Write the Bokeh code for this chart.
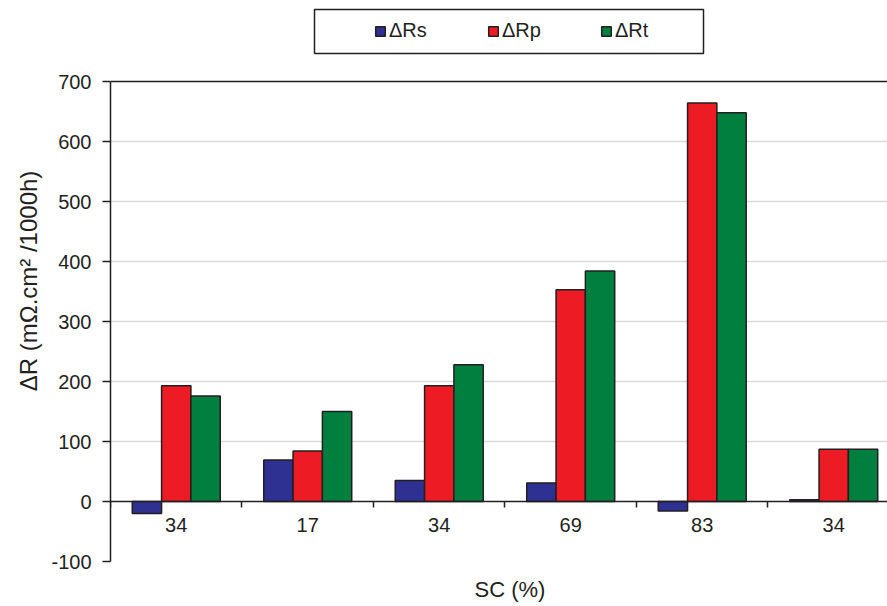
from bokeh.plotting import figure
from bokeh.models import (Range1d, FixedTicker, Legend, LegendItem, Title, Span,
                          BoxAnnotation, ColumnDataSource)
from bokeh.transform import dodge
from bokeh.embed import file_html
from bokeh.resources import INLINE

# ---- data ----
categories = ["34", "17", "34", "69", "83", "34"]
dRs = [-20, 69, 35, 31, -16, 3]
dRp = [193, 84, 193, 353, 664, 87]
dRt = [176, 150, 228, 384, 648, 87]
y_ticks = [-100, 0, 100, 200, 300, 400, 500, 600, 700]
series_names = ["ΔRs", "ΔRp", "ΔRt"]
colors = ["#2e3192", "#ed1c24", "#007f3f"]

FONT = "Liberation Sans"
DARK = "#231f20"

positions = [i + 0.5 for i in range(len(categories))]
boundaries = list(range(len(categories) + 1))
src = ColumnDataSource(dict(x=positions, dRs=dRs, dRp=dRp, dRt=dRt))

# frame spans the whole top; the value axis runs from -100 to 700,
# the extra headroom above 700 hosts the legend
p = figure(width=887, height=606, output_backend="svg", toolbar_location=None,
           x_range=Range1d(0, 5.909), y_range=Range1d(-100, 835),
           min_border_left=110, min_border_right=0, min_border_top=0,
           min_border_bottom=45)
p.outline_line_color = None
p.background_fill_color = "white"
p.border_fill_color = "white"

bw = 0.223
renderers = []
for i, (col, c) in enumerate(zip(["dRs", "dRp", "dRt"], colors)):
    r = p.vbar(x=dodge("x", (i - 1) * bw), top=col, bottom=0, width=bw, source=src,
               fill_color=c, line_color=DARK, line_width=1.5)
    renderers.append(r)

# grid
p.xgrid.visible = False
p.ygrid.ticker = FixedTicker(ticks=[t for t in y_ticks if 0 < t < y_ticks[-1]])
p.ygrid.grid_line_color = "#d9d9d9"
p.ygrid.grid_line_width = 1.5

# y axis
ya = p.yaxis[0]
ya.ticker = FixedTicker(ticks=y_ticks)
ya.bounds = (y_ticks[0], y_ticks[-1])
ya.major_label_overrides = {t: str(t) for t in y_ticks}
ya.axis_line_color = DARK
ya.axis_line_width = 1.5
ya.major_tick_line_color = DARK
ya.major_tick_line_width = 1.5
ya.major_tick_out = 8
ya.major_tick_in = 0
ya.minor_tick_line_color = None
ya.major_label_text_font = FONT
ya.major_label_text_font_size = "20px"
ya.major_label_text_color = DARK
ya.major_label_standoff = 11
ya.axis_label = "ΔR (mΩ.cm² /1000h)"
ya.axis_label_text_font = FONT
ya.axis_label_text_font_size = "24px"
ya.axis_label_text_font_style = "normal"
ya.axis_label_text_color = DARK
ya.axis_label_standoff = 6

# x axis at y = 0
xa = p.xaxis[0]
xa.fixed_location = 0
xa.ticker = FixedTicker(ticks=positions, minor_ticks=boundaries)
xa.major_label_overrides = {pos: lab for pos, lab in zip(positions, categories)}
xa.major_tick_line_color = None
xa.major_tick_out = 0
xa.major_tick_in = 0
xa.minor_tick_line_color = DARK
xa.minor_tick_line_width = 1.5
xa.minor_tick_out = 6
xa.minor_tick_in = 0
xa.axis_line_color = DARK
xa.axis_line_width = 1.5
xa.major_label_text_font = FONT
xa.major_label_text_font_size = "20px"
xa.major_label_text_color = DARK
xa.major_label_standoff = 10

# top border of plot area
p.add_layout(Span(location=y_ticks[-1], dimension="width", line_color=DARK, line_width=1.5))

# x axis title (a tiny blank title above it acts as vertical spacing)
p.add_layout(Title(text=" ", text_font_size="1px", standoff=9), "below")
p.add_layout(Title(text="SC (%)", align="left", offset=364, text_font=FONT,
                   text_font_size="22px", text_font_style="normal", text_color=DARK,
                   standoff=2), "below")

# legend (frame drawn separately so the items can sit centred in a wide box)
legend = Legend(items=[LegendItem(label=n, renderers=[r]) for n, r in zip(series_names, renderers)],
                orientation="horizontal", location=(264, 519), margin=0, padding=0,
                spacing=56, glyph_width=12, glyph_height=12, label_standoff=3,
                label_width=42, label_height=20,
                label_text_font=FONT, label_text_font_size="20px", label_text_color=DARK,
                border_line_color=None, background_fill_alpha=0.0)
p.add_layout(legend, "center")
p.add_layout(BoxAnnotation(left=204, right=593, bottom=508, top=552,
                           left_units="screen", right_units="screen",
                           bottom_units="screen", top_units="screen",
                           fill_color=None, fill_alpha=0.0,
                           line_color=DARK, line_alpha=1.0, line_width=1.5))

open("out.html", "w").write(file_html(p, INLINE))
